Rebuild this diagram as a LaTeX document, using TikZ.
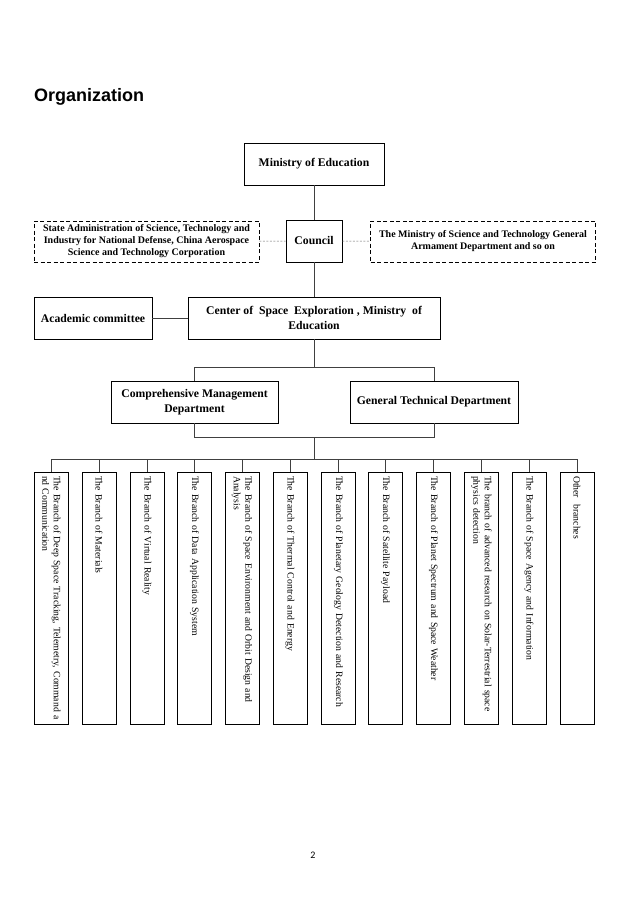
\documentclass[tikz,border=0pt]{standalone}
\usepackage{fontspec}
\setmainfont{Liberation Serif}
\newfontfamily\titlefont{Liberation Sans}
\newfontfamily\pagefont{Carlito}
\begin{document}
\begin{tikzpicture}[x=1pt,y=-1pt,
  box/.style={draw, line width=0.9pt, fill=white, inner sep=2pt, align=center,
    font=\fontsize{11.7}{14.5}\selectfont\bfseries},
  dbox/.style={draw, line width=0.8pt, dash pattern=on 4pt off 2.5pt, align=center, inner sep=2pt,
    font=\fontsize{10}{12}\selectfont\bfseries},
  branch/.style={draw, line width=0.9pt, fill=white, rotate=-90, minimum width=252pt, minimum height=34pt,
    text width=244pt, inner xsep=4pt, inner ysep=0pt, align=left,
    font=\fontsize{9.7}{11.5}\selectfont},
  link/.style={draw=black!75, line width=0.7pt},
  dlink/.style={draw=black!60, line width=0.6pt, dash pattern=on 2pt off 1.5pt}]
\useasboundingbox (0,0) rectangle (630,900);

\node[font=\titlefont\fontsize{18}{20}\selectfont\bfseries, anchor=base west, inner sep=0] (title) at (34,101) {Organization};

\node[box, minimum width=140pt, minimum height=42pt] (moe) at (314,164) {Ministry of Education};
\node[box, minimum width=56pt, minimum height=42pt] (council) at (314,241) {Council};
\node[dbox, minimum width=225pt, minimum height=41pt] (sastind) at (146.5,241.5) {State Administration of Science, Technology and\\Industry for National Defense, China Aerospace\\Science and Technology Corporation};
\node[dbox, minimum width=225pt, minimum height=41pt] (most) at (483,241.5) {The Ministry of Science and Technology General\\Armament Department and so on};
\node[box, minimum width=118pt, minimum height=42pt] (acad) at (93,318) {Academic committee};
\node[box, minimum width=252pt, minimum height=42pt] (cse) at (314,318) {Center of\ \ Space\ \ Exploration , Ministry\ \ of\\Education};
\node[box, minimum width=167pt, minimum height=42pt] (cmd) at (194.5,402) {Comprehensive Management\\Department};
\node[box, minimum width=168pt, minimum height=42pt] (gtd) at (434,402) {General Technical Department};

\coordinate (top) at (314,367);
\coordinate (bot) at (314,437);
\coordinate (bus) at (314,459);

\draw[link] (moe) -- (council);
\draw[link] (council) -- (cse);
\draw[dlink] (sastind) -- (council);
\draw[dlink] (council) -- (most);
\draw[link] (acad) -- (cse);
\draw[link] (cse.south) -- (top);
\draw[link] (cmd.north) -- (cmd.north |- top) -- (gtd.north |- top) -- (gtd.north);
\draw[link] (cmd.south) -- (cmd.south |- bot) -- (gtd.south |- bot) -- (gtd.south);
\draw[link] (bot) -- (bus);

\node[branch] (b1) at (51.5,598) {The Branch of Deep Space Tracking, Telemetry, Command a\\nd Communication};
\node[branch] (b2) at (99,598) {The Branch of Materials};
\node[branch] (b3) at (147,598) {The Branch of Virtual Reality};
\node[branch] (b4) at (194.5,598) {The Branch of Data Application System};
\node[branch] (b5) at (242,598) {The Branch of Space Environment and Orbit Design and\\Analysis};
\node[branch] (b6) at (290,598) {The Branch of Thermal Control and Energy};
\node[branch] (b7) at (338.5,598) {The Branch of Planetary Geology Detection and Research};
\node[branch] (b8) at (385.5,598) {The Branch of Satellite Payload};
\node[branch] (b9) at (433.5,598) {The Branch of Planet Spectrum and Space Weather};
\node[branch] (b10) at (481.5,598) {The branch of advanced research on Solar-Terrestrial space\\physics detection};
\node[branch] (b11) at (529,598) {The Branch of Space Agency and Information};
\node[branch] (b12) at (577,598) {Other\ \ branches};

\draw[link] (b1.west |- bus) -- (b12.west |- bus);
\foreach \n in {1,...,12} {\draw[link] (b\n.west) -- (b\n.west |- bus);}

\node[font=\pagefont\fontsize{10}{12}\selectfont] (pg) at (313,855) {2};
\end{tikzpicture}
\end{document}
